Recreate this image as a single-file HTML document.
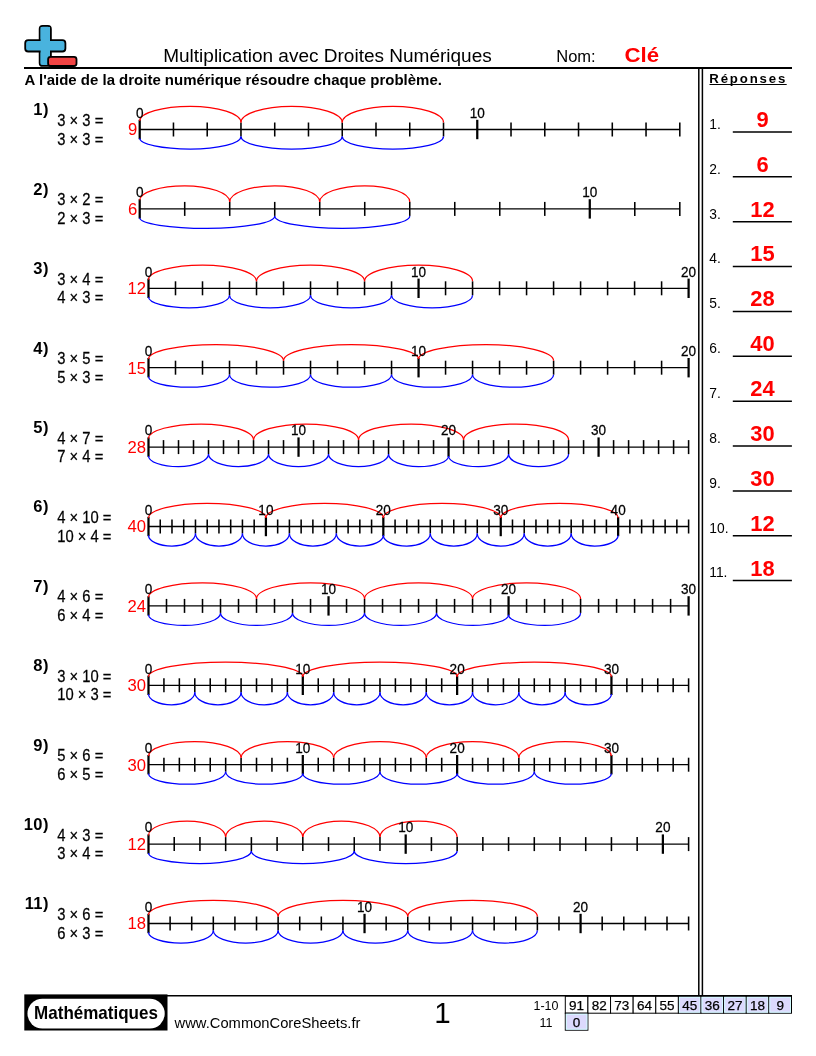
<!DOCTYPE html>
<html><head><meta charset="utf-8"><style>
html,body{margin:0;padding:0;background:#fff;}
body{width:816px;height:1056px;position:relative;overflow:hidden;font-family:'Liberation Sans', Arial, sans-serif;}
svg{position:absolute;left:0;top:0;}
svg text{font-family:'Liberation Sans', Arial, sans-serif;stroke:currentColor;stroke-width:0;}
svg text.t{stroke-width:0.25px;}
</style></head><body>
<svg width="816" height="1056" viewBox="0 0 816 1056">
<g fill="none" stroke-width="1.25">
<path d="M139.7 129.5H679.8" stroke="#000" stroke-width="1.3"/>
<path d="M139.7 119.8V139.2" stroke="#000" stroke-width="2.25"/>
<path d="M173.46 122.5V136.5" stroke="#000" stroke-width="1.55"/>
<path d="M207.21 122.5V136.5" stroke="#000" stroke-width="1.55"/>
<path d="M240.97 122.5V136.5" stroke="#000" stroke-width="1.55"/>
<path d="M274.73 122.5V136.5" stroke="#000" stroke-width="1.55"/>
<path d="M308.48 122.5V136.5" stroke="#000" stroke-width="1.55"/>
<path d="M342.24 122.5V136.5" stroke="#000" stroke-width="1.55"/>
<path d="M375.99 122.5V136.5" stroke="#000" stroke-width="1.55"/>
<path d="M409.75 122.5V136.5" stroke="#000" stroke-width="1.55"/>
<path d="M443.51 122.5V136.5" stroke="#000" stroke-width="1.55"/>
<path d="M477.26 119.8V139.2" stroke="#000" stroke-width="2.25"/>
<path d="M511.02 122.5V136.5" stroke="#000" stroke-width="1.55"/>
<path d="M544.78 122.5V136.5" stroke="#000" stroke-width="1.55"/>
<path d="M578.53 122.5V136.5" stroke="#000" stroke-width="1.55"/>
<path d="M612.29 122.5V136.5" stroke="#000" stroke-width="1.55"/>
<path d="M646.04 122.5V136.5" stroke="#000" stroke-width="1.55"/>
<path d="M679.8 122.5V136.5" stroke="#000" stroke-width="1.55"/>
<path d="M139.7 120.9 C139.7 112.89 162.37 106.4 190.33 106.4 C218.3 106.4 240.97 113.61 240.97 122.5" stroke="#ff0000"/>
<path d="M240.97 122.5 C240.97 113.61 263.64 106.4 291.6 106.4 C319.57 106.4 342.24 113.61 342.24 122.5" stroke="#ff0000"/>
<path d="M342.24 122.5 C342.24 113.61 364.91 106.4 392.87 106.4 C420.84 106.4 443.51 113.61 443.51 122.5" stroke="#ff0000"/>
<path d="M139.7 138.3 C139.7 144.21 162.37 149 190.33 149 C218.3 149 240.97 143.4 240.97 136.5" stroke="#0000ff"/>
<path d="M240.97 136.5 C240.97 143.4 263.64 149 291.6 149 C319.57 149 342.24 143.4 342.24 136.5" stroke="#0000ff"/>
<path d="M342.24 136.5 C342.24 143.4 364.91 149 392.87 149 C420.84 149 443.51 143.4 443.51 136.5" stroke="#0000ff"/>
<path d="M139.7 208.9H679.8" stroke="#000" stroke-width="1.3"/>
<path d="M139.7 199.2V218.6" stroke="#000" stroke-width="2.25"/>
<path d="M184.71 201.9V215.9" stroke="#000" stroke-width="1.55"/>
<path d="M229.72 201.9V215.9" stroke="#000" stroke-width="1.55"/>
<path d="M274.73 201.9V215.9" stroke="#000" stroke-width="1.55"/>
<path d="M319.73 201.9V215.9" stroke="#000" stroke-width="1.55"/>
<path d="M364.74 201.9V215.9" stroke="#000" stroke-width="1.55"/>
<path d="M409.75 201.9V215.9" stroke="#000" stroke-width="1.55"/>
<path d="M454.76 201.9V215.9" stroke="#000" stroke-width="1.55"/>
<path d="M499.77 201.9V215.9" stroke="#000" stroke-width="1.55"/>
<path d="M544.77 201.9V215.9" stroke="#000" stroke-width="1.55"/>
<path d="M589.78 199.2V218.6" stroke="#000" stroke-width="2.25"/>
<path d="M634.79 201.9V215.9" stroke="#000" stroke-width="1.55"/>
<path d="M679.8 201.9V215.9" stroke="#000" stroke-width="1.55"/>
<path d="M139.7 200.3 C139.7 192.29 159.85 185.8 184.71 185.8 C209.57 185.8 229.72 193.01 229.72 201.9" stroke="#ff0000"/>
<path d="M229.72 201.9 C229.72 193.01 249.87 185.8 274.73 185.8 C299.58 185.8 319.73 193.01 319.73 201.9" stroke="#ff0000"/>
<path d="M319.73 201.9 C319.73 193.01 339.88 185.8 364.74 185.8 C389.6 185.8 409.75 193.01 409.75 201.9" stroke="#ff0000"/>
<path d="M139.7 217.7 C139.7 223.61 169.93 228.4 207.21 228.4 C244.5 228.4 274.73 222.8 274.73 215.9" stroke="#0000ff"/>
<path d="M274.73 215.9 C274.73 222.8 304.95 228.4 342.24 228.4 C379.52 228.4 409.75 222.8 409.75 215.9" stroke="#0000ff"/>
<path d="M148.5 288.3H688.6" stroke="#000" stroke-width="1.3"/>
<path d="M148.5 278.6V298" stroke="#000" stroke-width="2.25"/>
<path d="M175.5 281.3V295.3" stroke="#000" stroke-width="1.55"/>
<path d="M202.51 281.3V295.3" stroke="#000" stroke-width="1.55"/>
<path d="M229.52 281.3V295.3" stroke="#000" stroke-width="1.55"/>
<path d="M256.52 281.3V295.3" stroke="#000" stroke-width="1.55"/>
<path d="M283.52 281.3V295.3" stroke="#000" stroke-width="1.55"/>
<path d="M310.53 281.3V295.3" stroke="#000" stroke-width="1.55"/>
<path d="M337.54 281.3V295.3" stroke="#000" stroke-width="1.55"/>
<path d="M364.54 281.3V295.3" stroke="#000" stroke-width="1.55"/>
<path d="M391.55 281.3V295.3" stroke="#000" stroke-width="1.55"/>
<path d="M418.55 278.6V298" stroke="#000" stroke-width="2.25"/>
<path d="M445.56 281.3V295.3" stroke="#000" stroke-width="1.55"/>
<path d="M472.56 281.3V295.3" stroke="#000" stroke-width="1.55"/>
<path d="M499.57 281.3V295.3" stroke="#000" stroke-width="1.55"/>
<path d="M526.57 281.3V295.3" stroke="#000" stroke-width="1.55"/>
<path d="M553.58 281.3V295.3" stroke="#000" stroke-width="1.55"/>
<path d="M580.58 281.3V295.3" stroke="#000" stroke-width="1.55"/>
<path d="M607.59 281.3V295.3" stroke="#000" stroke-width="1.55"/>
<path d="M634.59 281.3V295.3" stroke="#000" stroke-width="1.55"/>
<path d="M661.6 281.3V295.3" stroke="#000" stroke-width="1.55"/>
<path d="M688.6 278.6V298" stroke="#000" stroke-width="2.25"/>
<path d="M148.5 279.7 C148.5 271.69 172.68 265.2 202.51 265.2 C232.34 265.2 256.52 272.41 256.52 281.3" stroke="#ff0000"/>
<path d="M256.52 281.3 C256.52 272.41 280.7 265.2 310.53 265.2 C340.36 265.2 364.54 272.41 364.54 281.3" stroke="#ff0000"/>
<path d="M364.54 281.3 C364.54 272.41 388.72 265.2 418.55 265.2 C448.38 265.2 472.56 272.41 472.56 281.3" stroke="#ff0000"/>
<path d="M148.5 297.1 C148.5 303.01 166.64 307.8 189.01 307.8 C211.38 307.8 229.52 302.2 229.52 295.3" stroke="#0000ff"/>
<path d="M229.52 295.3 C229.52 302.2 247.65 307.8 270.02 307.8 C292.39 307.8 310.53 302.2 310.53 295.3" stroke="#0000ff"/>
<path d="M310.53 295.3 C310.53 302.2 328.67 307.8 351.04 307.8 C373.41 307.8 391.55 302.2 391.55 295.3" stroke="#0000ff"/>
<path d="M391.55 295.3 C391.55 302.2 409.68 307.8 432.05 307.8 C454.42 307.8 472.56 302.2 472.56 295.3" stroke="#0000ff"/>
<path d="M148.5 367.7H688.6" stroke="#000" stroke-width="1.3"/>
<path d="M148.5 358V377.4" stroke="#000" stroke-width="2.25"/>
<path d="M175.5 360.7V374.7" stroke="#000" stroke-width="1.55"/>
<path d="M202.51 360.7V374.7" stroke="#000" stroke-width="1.55"/>
<path d="M229.52 360.7V374.7" stroke="#000" stroke-width="1.55"/>
<path d="M256.52 360.7V374.7" stroke="#000" stroke-width="1.55"/>
<path d="M283.52 360.7V374.7" stroke="#000" stroke-width="1.55"/>
<path d="M310.53 360.7V374.7" stroke="#000" stroke-width="1.55"/>
<path d="M337.54 360.7V374.7" stroke="#000" stroke-width="1.55"/>
<path d="M364.54 360.7V374.7" stroke="#000" stroke-width="1.55"/>
<path d="M391.55 360.7V374.7" stroke="#000" stroke-width="1.55"/>
<path d="M418.55 358V377.4" stroke="#000" stroke-width="2.25"/>
<path d="M445.56 360.7V374.7" stroke="#000" stroke-width="1.55"/>
<path d="M472.56 360.7V374.7" stroke="#000" stroke-width="1.55"/>
<path d="M499.57 360.7V374.7" stroke="#000" stroke-width="1.55"/>
<path d="M526.57 360.7V374.7" stroke="#000" stroke-width="1.55"/>
<path d="M553.58 360.7V374.7" stroke="#000" stroke-width="1.55"/>
<path d="M580.58 360.7V374.7" stroke="#000" stroke-width="1.55"/>
<path d="M607.59 360.7V374.7" stroke="#000" stroke-width="1.55"/>
<path d="M634.59 360.7V374.7" stroke="#000" stroke-width="1.55"/>
<path d="M661.6 360.7V374.7" stroke="#000" stroke-width="1.55"/>
<path d="M688.6 358V377.4" stroke="#000" stroke-width="2.25"/>
<path d="M148.5 359.1 C148.5 351.09 178.73 344.6 216.01 344.6 C253.3 344.6 283.52 351.81 283.52 360.7" stroke="#ff0000"/>
<path d="M283.52 360.7 C283.52 351.81 313.75 344.6 351.04 344.6 C388.32 344.6 418.55 351.09 418.55 359.1" stroke="#ff0000"/>
<path d="M418.55 359.1 C418.55 351.09 448.78 344.6 486.06 344.6 C523.35 344.6 553.58 351.81 553.58 360.7" stroke="#ff0000"/>
<path d="M148.5 376.5 C148.5 382.41 166.64 387.2 189.01 387.2 C211.38 387.2 229.52 381.6 229.52 374.7" stroke="#0000ff"/>
<path d="M229.52 374.7 C229.52 381.6 247.65 387.2 270.02 387.2 C292.39 387.2 310.53 381.6 310.53 374.7" stroke="#0000ff"/>
<path d="M310.53 374.7 C310.53 381.6 328.67 387.2 351.04 387.2 C373.41 387.2 391.55 381.6 391.55 374.7" stroke="#0000ff"/>
<path d="M391.55 374.7 C391.55 381.6 409.68 387.2 432.05 387.2 C454.42 387.2 472.56 381.6 472.56 374.7" stroke="#0000ff"/>
<path d="M472.56 374.7 C472.56 381.6 490.7 387.2 513.07 387.2 C535.44 387.2 553.58 381.6 553.58 374.7" stroke="#0000ff"/>
<path d="M148.5 447.1H688.6" stroke="#000" stroke-width="1.3"/>
<path d="M148.5 437.4V456.8" stroke="#000" stroke-width="2.25"/>
<path d="M163.5 440.1V454.1" stroke="#000" stroke-width="1.55"/>
<path d="M178.51 440.1V454.1" stroke="#000" stroke-width="1.55"/>
<path d="M193.51 440.1V454.1" stroke="#000" stroke-width="1.55"/>
<path d="M208.51 440.1V454.1" stroke="#000" stroke-width="1.55"/>
<path d="M223.51 440.1V454.1" stroke="#000" stroke-width="1.55"/>
<path d="M238.52 440.1V454.1" stroke="#000" stroke-width="1.55"/>
<path d="M253.52 440.1V454.1" stroke="#000" stroke-width="1.55"/>
<path d="M268.52 440.1V454.1" stroke="#000" stroke-width="1.55"/>
<path d="M283.52 440.1V454.1" stroke="#000" stroke-width="1.55"/>
<path d="M298.53 437.4V456.8" stroke="#000" stroke-width="2.25"/>
<path d="M313.53 440.1V454.1" stroke="#000" stroke-width="1.55"/>
<path d="M328.53 440.1V454.1" stroke="#000" stroke-width="1.55"/>
<path d="M343.54 440.1V454.1" stroke="#000" stroke-width="1.55"/>
<path d="M358.54 440.1V454.1" stroke="#000" stroke-width="1.55"/>
<path d="M373.54 440.1V454.1" stroke="#000" stroke-width="1.55"/>
<path d="M388.54 440.1V454.1" stroke="#000" stroke-width="1.55"/>
<path d="M403.55 440.1V454.1" stroke="#000" stroke-width="1.55"/>
<path d="M418.55 440.1V454.1" stroke="#000" stroke-width="1.55"/>
<path d="M433.55 440.1V454.1" stroke="#000" stroke-width="1.55"/>
<path d="M448.56 437.4V456.8" stroke="#000" stroke-width="2.25"/>
<path d="M463.56 440.1V454.1" stroke="#000" stroke-width="1.55"/>
<path d="M478.56 440.1V454.1" stroke="#000" stroke-width="1.55"/>
<path d="M493.56 440.1V454.1" stroke="#000" stroke-width="1.55"/>
<path d="M508.57 440.1V454.1" stroke="#000" stroke-width="1.55"/>
<path d="M523.57 440.1V454.1" stroke="#000" stroke-width="1.55"/>
<path d="M538.57 440.1V454.1" stroke="#000" stroke-width="1.55"/>
<path d="M553.58 440.1V454.1" stroke="#000" stroke-width="1.55"/>
<path d="M568.58 440.1V454.1" stroke="#000" stroke-width="1.55"/>
<path d="M583.58 440.1V454.1" stroke="#000" stroke-width="1.55"/>
<path d="M598.58 437.4V456.8" stroke="#000" stroke-width="2.25"/>
<path d="M613.59 440.1V454.1" stroke="#000" stroke-width="1.55"/>
<path d="M628.59 440.1V454.1" stroke="#000" stroke-width="1.55"/>
<path d="M643.59 440.1V454.1" stroke="#000" stroke-width="1.55"/>
<path d="M658.59 440.1V454.1" stroke="#000" stroke-width="1.55"/>
<path d="M673.6 440.1V454.1" stroke="#000" stroke-width="1.55"/>
<path d="M688.6 440.1V454.1" stroke="#000" stroke-width="1.55"/>
<path d="M148.5 438.5 C148.5 430.49 172.01 424 201.01 424 C230.01 424 253.52 431.21 253.52 440.1" stroke="#ff0000"/>
<path d="M253.52 440.1 C253.52 431.21 277.03 424 306.03 424 C335.03 424 358.54 431.21 358.54 440.1" stroke="#ff0000"/>
<path d="M358.54 440.1 C358.54 431.21 382.05 424 411.05 424 C440.05 424 463.56 431.21 463.56 440.1" stroke="#ff0000"/>
<path d="M463.56 440.1 C463.56 431.21 487.07 424 516.07 424 C545.07 424 568.58 431.21 568.58 440.1" stroke="#ff0000"/>
<path d="M148.5 455.9 C148.5 461.81 161.93 466.6 178.51 466.6 C195.08 466.6 208.51 461 208.51 454.1" stroke="#0000ff"/>
<path d="M208.51 454.1 C208.51 461 221.94 466.6 238.52 466.6 C255.09 466.6 268.52 461 268.52 454.1" stroke="#0000ff"/>
<path d="M268.52 454.1 C268.52 461 281.96 466.6 298.53 466.6 C315.1 466.6 328.53 461 328.53 454.1" stroke="#0000ff"/>
<path d="M328.53 454.1 C328.53 461 341.97 466.6 358.54 466.6 C375.11 466.6 388.54 461 388.54 454.1" stroke="#0000ff"/>
<path d="M388.54 454.1 C388.54 461 401.98 466.6 418.55 466.6 C435.12 466.6 448.56 461.81 448.56 455.9" stroke="#0000ff"/>
<path d="M448.56 455.9 C448.56 461.81 461.99 466.6 478.56 466.6 C495.13 466.6 508.57 461 508.57 454.1" stroke="#0000ff"/>
<path d="M508.57 454.1 C508.57 461 522 466.6 538.57 466.6 C555.14 466.6 568.58 461 568.58 454.1" stroke="#0000ff"/>
<path d="M148.5 526.5H688.6" stroke="#000" stroke-width="1.3"/>
<path d="M148.5 516.8V536.2" stroke="#000" stroke-width="2.25"/>
<path d="M160.24 519.5V533.5" stroke="#000" stroke-width="1.55"/>
<path d="M171.98 519.5V533.5" stroke="#000" stroke-width="1.55"/>
<path d="M183.72 519.5V533.5" stroke="#000" stroke-width="1.55"/>
<path d="M195.47 519.5V533.5" stroke="#000" stroke-width="1.55"/>
<path d="M207.21 519.5V533.5" stroke="#000" stroke-width="1.55"/>
<path d="M218.95 519.5V533.5" stroke="#000" stroke-width="1.55"/>
<path d="M230.69 519.5V533.5" stroke="#000" stroke-width="1.55"/>
<path d="M242.43 519.5V533.5" stroke="#000" stroke-width="1.55"/>
<path d="M254.17 519.5V533.5" stroke="#000" stroke-width="1.55"/>
<path d="M265.91 516.8V536.2" stroke="#000" stroke-width="2.25"/>
<path d="M277.65 519.5V533.5" stroke="#000" stroke-width="1.55"/>
<path d="M289.4 519.5V533.5" stroke="#000" stroke-width="1.55"/>
<path d="M301.14 519.5V533.5" stroke="#000" stroke-width="1.55"/>
<path d="M312.88 519.5V533.5" stroke="#000" stroke-width="1.55"/>
<path d="M324.62 519.5V533.5" stroke="#000" stroke-width="1.55"/>
<path d="M336.36 519.5V533.5" stroke="#000" stroke-width="1.55"/>
<path d="M348.1 519.5V533.5" stroke="#000" stroke-width="1.55"/>
<path d="M359.84 519.5V533.5" stroke="#000" stroke-width="1.55"/>
<path d="M371.58 519.5V533.5" stroke="#000" stroke-width="1.55"/>
<path d="M383.33 516.8V536.2" stroke="#000" stroke-width="2.25"/>
<path d="M395.07 519.5V533.5" stroke="#000" stroke-width="1.55"/>
<path d="M406.81 519.5V533.5" stroke="#000" stroke-width="1.55"/>
<path d="M418.55 519.5V533.5" stroke="#000" stroke-width="1.55"/>
<path d="M430.29 519.5V533.5" stroke="#000" stroke-width="1.55"/>
<path d="M442.03 519.5V533.5" stroke="#000" stroke-width="1.55"/>
<path d="M453.77 519.5V533.5" stroke="#000" stroke-width="1.55"/>
<path d="M465.52 519.5V533.5" stroke="#000" stroke-width="1.55"/>
<path d="M477.26 519.5V533.5" stroke="#000" stroke-width="1.55"/>
<path d="M489 519.5V533.5" stroke="#000" stroke-width="1.55"/>
<path d="M500.74 516.8V536.2" stroke="#000" stroke-width="2.25"/>
<path d="M512.48 519.5V533.5" stroke="#000" stroke-width="1.55"/>
<path d="M524.22 519.5V533.5" stroke="#000" stroke-width="1.55"/>
<path d="M535.96 519.5V533.5" stroke="#000" stroke-width="1.55"/>
<path d="M547.7 519.5V533.5" stroke="#000" stroke-width="1.55"/>
<path d="M559.45 519.5V533.5" stroke="#000" stroke-width="1.55"/>
<path d="M571.19 519.5V533.5" stroke="#000" stroke-width="1.55"/>
<path d="M582.93 519.5V533.5" stroke="#000" stroke-width="1.55"/>
<path d="M594.67 519.5V533.5" stroke="#000" stroke-width="1.55"/>
<path d="M606.41 519.5V533.5" stroke="#000" stroke-width="1.55"/>
<path d="M618.15 516.8V536.2" stroke="#000" stroke-width="2.25"/>
<path d="M629.89 519.5V533.5" stroke="#000" stroke-width="1.55"/>
<path d="M641.63 519.5V533.5" stroke="#000" stroke-width="1.55"/>
<path d="M653.38 519.5V533.5" stroke="#000" stroke-width="1.55"/>
<path d="M665.12 519.5V533.5" stroke="#000" stroke-width="1.55"/>
<path d="M676.86 519.5V533.5" stroke="#000" stroke-width="1.55"/>
<path d="M688.6 519.5V533.5" stroke="#000" stroke-width="1.55"/>
<path d="M148.5 517.9 C148.5 509.89 174.78 503.4 207.21 503.4 C239.63 503.4 265.91 509.89 265.91 517.9" stroke="#ff0000"/>
<path d="M265.91 517.9 C265.91 509.89 292.2 503.4 324.62 503.4 C357.04 503.4 383.33 509.89 383.33 517.9" stroke="#ff0000"/>
<path d="M383.33 517.9 C383.33 509.89 409.61 503.4 442.03 503.4 C474.46 503.4 500.74 509.89 500.74 517.9" stroke="#ff0000"/>
<path d="M500.74 517.9 C500.74 509.89 527.02 503.4 559.45 503.4 C591.87 503.4 618.15 509.89 618.15 517.9" stroke="#ff0000"/>
<path d="M148.5 535.3 C148.5 541.21 159.01 546 171.98 546 C184.95 546 195.47 540.4 195.47 533.5" stroke="#0000ff"/>
<path d="M195.47 533.5 C195.47 540.4 205.98 546 218.95 546 C231.92 546 242.43 540.4 242.43 533.5" stroke="#0000ff"/>
<path d="M242.43 533.5 C242.43 540.4 252.94 546 265.91 546 C278.88 546 289.4 540.4 289.4 533.5" stroke="#0000ff"/>
<path d="M289.4 533.5 C289.4 540.4 299.91 546 312.88 546 C325.85 546 336.36 540.4 336.36 533.5" stroke="#0000ff"/>
<path d="M336.36 533.5 C336.36 540.4 346.87 546 359.84 546 C372.81 546 383.33 541.21 383.33 535.3" stroke="#0000ff"/>
<path d="M383.33 535.3 C383.33 541.21 393.84 546 406.81 546 C419.78 546 430.29 540.4 430.29 533.5" stroke="#0000ff"/>
<path d="M430.29 533.5 C430.29 540.4 440.8 546 453.77 546 C466.74 546 477.26 540.4 477.26 533.5" stroke="#0000ff"/>
<path d="M477.26 533.5 C477.26 540.4 487.77 546 500.74 546 C513.71 546 524.22 540.4 524.22 533.5" stroke="#0000ff"/>
<path d="M524.22 533.5 C524.22 540.4 534.73 546 547.7 546 C560.67 546 571.19 540.4 571.19 533.5" stroke="#0000ff"/>
<path d="M571.19 533.5 C571.19 540.4 581.7 546 594.67 546 C607.64 546 618.15 541.21 618.15 535.3" stroke="#0000ff"/>
<path d="M148.5 605.9H688.6" stroke="#000" stroke-width="1.3"/>
<path d="M148.5 596.2V615.6" stroke="#000" stroke-width="2.25"/>
<path d="M166.5 598.9V612.9" stroke="#000" stroke-width="1.55"/>
<path d="M184.51 598.9V612.9" stroke="#000" stroke-width="1.55"/>
<path d="M202.51 598.9V612.9" stroke="#000" stroke-width="1.55"/>
<path d="M220.51 598.9V612.9" stroke="#000" stroke-width="1.55"/>
<path d="M238.52 598.9V612.9" stroke="#000" stroke-width="1.55"/>
<path d="M256.52 598.9V612.9" stroke="#000" stroke-width="1.55"/>
<path d="M274.52 598.9V612.9" stroke="#000" stroke-width="1.55"/>
<path d="M292.53 598.9V612.9" stroke="#000" stroke-width="1.55"/>
<path d="M310.53 598.9V612.9" stroke="#000" stroke-width="1.55"/>
<path d="M328.53 596.2V615.6" stroke="#000" stroke-width="2.25"/>
<path d="M346.54 598.9V612.9" stroke="#000" stroke-width="1.55"/>
<path d="M364.54 598.9V612.9" stroke="#000" stroke-width="1.55"/>
<path d="M382.54 598.9V612.9" stroke="#000" stroke-width="1.55"/>
<path d="M400.55 598.9V612.9" stroke="#000" stroke-width="1.55"/>
<path d="M418.55 598.9V612.9" stroke="#000" stroke-width="1.55"/>
<path d="M436.55 598.9V612.9" stroke="#000" stroke-width="1.55"/>
<path d="M454.56 598.9V612.9" stroke="#000" stroke-width="1.55"/>
<path d="M472.56 598.9V612.9" stroke="#000" stroke-width="1.55"/>
<path d="M490.56 598.9V612.9" stroke="#000" stroke-width="1.55"/>
<path d="M508.57 596.2V615.6" stroke="#000" stroke-width="2.25"/>
<path d="M526.57 598.9V612.9" stroke="#000" stroke-width="1.55"/>
<path d="M544.57 598.9V612.9" stroke="#000" stroke-width="1.55"/>
<path d="M562.58 598.9V612.9" stroke="#000" stroke-width="1.55"/>
<path d="M580.58 598.9V612.9" stroke="#000" stroke-width="1.55"/>
<path d="M598.58 598.9V612.9" stroke="#000" stroke-width="1.55"/>
<path d="M616.59 598.9V612.9" stroke="#000" stroke-width="1.55"/>
<path d="M634.59 598.9V612.9" stroke="#000" stroke-width="1.55"/>
<path d="M652.59 598.9V612.9" stroke="#000" stroke-width="1.55"/>
<path d="M670.6 598.9V612.9" stroke="#000" stroke-width="1.55"/>
<path d="M688.6 596.2V615.6" stroke="#000" stroke-width="2.25"/>
<path d="M148.5 597.3 C148.5 589.29 172.68 582.8 202.51 582.8 C232.34 582.8 256.52 590.01 256.52 598.9" stroke="#ff0000"/>
<path d="M256.52 598.9 C256.52 590.01 280.7 582.8 310.53 582.8 C340.36 582.8 364.54 590.01 364.54 598.9" stroke="#ff0000"/>
<path d="M364.54 598.9 C364.54 590.01 388.72 582.8 418.55 582.8 C448.38 582.8 472.56 590.01 472.56 598.9" stroke="#ff0000"/>
<path d="M472.56 598.9 C472.56 590.01 496.74 582.8 526.57 582.8 C556.4 582.8 580.58 590.01 580.58 598.9" stroke="#ff0000"/>
<path d="M148.5 614.7 C148.5 620.61 164.62 625.4 184.51 625.4 C204.39 625.4 220.51 619.8 220.51 612.9" stroke="#0000ff"/>
<path d="M220.51 612.9 C220.51 619.8 236.63 625.4 256.52 625.4 C276.41 625.4 292.53 619.8 292.53 612.9" stroke="#0000ff"/>
<path d="M292.53 612.9 C292.53 619.8 308.65 625.4 328.53 625.4 C348.42 625.4 364.54 619.8 364.54 612.9" stroke="#0000ff"/>
<path d="M364.54 612.9 C364.54 619.8 380.66 625.4 400.55 625.4 C420.43 625.4 436.55 619.8 436.55 612.9" stroke="#0000ff"/>
<path d="M436.55 612.9 C436.55 619.8 452.67 625.4 472.56 625.4 C492.45 625.4 508.57 620.61 508.57 614.7" stroke="#0000ff"/>
<path d="M508.57 614.7 C508.57 620.61 524.69 625.4 544.57 625.4 C564.46 625.4 580.58 619.8 580.58 612.9" stroke="#0000ff"/>
<path d="M148.5 685.3H688.6" stroke="#000" stroke-width="1.3"/>
<path d="M148.5 675.6V695" stroke="#000" stroke-width="2.25"/>
<path d="M163.93 678.3V692.3" stroke="#000" stroke-width="1.55"/>
<path d="M179.36 678.3V692.3" stroke="#000" stroke-width="1.55"/>
<path d="M194.79 678.3V692.3" stroke="#000" stroke-width="1.55"/>
<path d="M210.23 678.3V692.3" stroke="#000" stroke-width="1.55"/>
<path d="M225.66 678.3V692.3" stroke="#000" stroke-width="1.55"/>
<path d="M241.09 678.3V692.3" stroke="#000" stroke-width="1.55"/>
<path d="M256.52 678.3V692.3" stroke="#000" stroke-width="1.55"/>
<path d="M271.95 678.3V692.3" stroke="#000" stroke-width="1.55"/>
<path d="M287.38 678.3V692.3" stroke="#000" stroke-width="1.55"/>
<path d="M302.81 675.6V695" stroke="#000" stroke-width="2.25"/>
<path d="M318.25 678.3V692.3" stroke="#000" stroke-width="1.55"/>
<path d="M333.68 678.3V692.3" stroke="#000" stroke-width="1.55"/>
<path d="M349.11 678.3V692.3" stroke="#000" stroke-width="1.55"/>
<path d="M364.54 678.3V692.3" stroke="#000" stroke-width="1.55"/>
<path d="M379.97 678.3V692.3" stroke="#000" stroke-width="1.55"/>
<path d="M395.4 678.3V692.3" stroke="#000" stroke-width="1.55"/>
<path d="M410.83 678.3V692.3" stroke="#000" stroke-width="1.55"/>
<path d="M426.27 678.3V692.3" stroke="#000" stroke-width="1.55"/>
<path d="M441.7 678.3V692.3" stroke="#000" stroke-width="1.55"/>
<path d="M457.13 675.6V695" stroke="#000" stroke-width="2.25"/>
<path d="M472.56 678.3V692.3" stroke="#000" stroke-width="1.55"/>
<path d="M487.99 678.3V692.3" stroke="#000" stroke-width="1.55"/>
<path d="M503.42 678.3V692.3" stroke="#000" stroke-width="1.55"/>
<path d="M518.85 678.3V692.3" stroke="#000" stroke-width="1.55"/>
<path d="M534.29 678.3V692.3" stroke="#000" stroke-width="1.55"/>
<path d="M549.72 678.3V692.3" stroke="#000" stroke-width="1.55"/>
<path d="M565.15 678.3V692.3" stroke="#000" stroke-width="1.55"/>
<path d="M580.58 678.3V692.3" stroke="#000" stroke-width="1.55"/>
<path d="M596.01 678.3V692.3" stroke="#000" stroke-width="1.55"/>
<path d="M611.44 675.6V695" stroke="#000" stroke-width="2.25"/>
<path d="M626.87 678.3V692.3" stroke="#000" stroke-width="1.55"/>
<path d="M642.31 678.3V692.3" stroke="#000" stroke-width="1.55"/>
<path d="M657.74 678.3V692.3" stroke="#000" stroke-width="1.55"/>
<path d="M673.17 678.3V692.3" stroke="#000" stroke-width="1.55"/>
<path d="M688.6 678.3V692.3" stroke="#000" stroke-width="1.55"/>
<path d="M148.5 676.7 C148.5 668.69 183.04 662.2 225.66 662.2 C268.27 662.2 302.81 668.69 302.81 676.7" stroke="#ff0000"/>
<path d="M302.81 676.7 C302.81 668.69 337.36 662.2 379.97 662.2 C422.59 662.2 457.13 668.69 457.13 676.7" stroke="#ff0000"/>
<path d="M457.13 676.7 C457.13 668.69 491.67 662.2 534.29 662.2 C576.9 662.2 611.44 668.69 611.44 676.7" stroke="#ff0000"/>
<path d="M148.5 694.1 C148.5 700.01 158.86 704.8 171.65 704.8 C184.43 704.8 194.79 699.2 194.79 692.3" stroke="#0000ff"/>
<path d="M194.79 692.3 C194.79 699.2 205.16 704.8 217.94 704.8 C230.73 704.8 241.09 699.2 241.09 692.3" stroke="#0000ff"/>
<path d="M241.09 692.3 C241.09 699.2 251.45 704.8 264.24 704.8 C277.02 704.8 287.38 699.2 287.38 692.3" stroke="#0000ff"/>
<path d="M287.38 692.3 C287.38 699.2 297.75 704.8 310.53 704.8 C323.31 704.8 333.68 699.2 333.68 692.3" stroke="#0000ff"/>
<path d="M333.68 692.3 C333.68 699.2 344.04 704.8 356.82 704.8 C369.61 704.8 379.97 699.2 379.97 692.3" stroke="#0000ff"/>
<path d="M379.97 692.3 C379.97 699.2 390.33 704.8 403.12 704.8 C415.9 704.8 426.27 699.2 426.27 692.3" stroke="#0000ff"/>
<path d="M426.27 692.3 C426.27 699.2 436.63 704.8 449.41 704.8 C462.2 704.8 472.56 699.2 472.56 692.3" stroke="#0000ff"/>
<path d="M472.56 692.3 C472.56 699.2 482.92 704.8 495.71 704.8 C508.49 704.8 518.85 699.2 518.85 692.3" stroke="#0000ff"/>
<path d="M518.85 692.3 C518.85 699.2 529.22 704.8 542 704.8 C554.79 704.8 565.15 699.2 565.15 692.3" stroke="#0000ff"/>
<path d="M565.15 692.3 C565.15 699.2 575.51 704.8 588.3 704.8 C601.08 704.8 611.44 700.01 611.44 694.1" stroke="#0000ff"/>
<path d="M148.5 764.7H688.6" stroke="#000" stroke-width="1.3"/>
<path d="M148.5 755V774.4" stroke="#000" stroke-width="2.25"/>
<path d="M163.93 757.7V771.7" stroke="#000" stroke-width="1.55"/>
<path d="M179.36 757.7V771.7" stroke="#000" stroke-width="1.55"/>
<path d="M194.79 757.7V771.7" stroke="#000" stroke-width="1.55"/>
<path d="M210.23 757.7V771.7" stroke="#000" stroke-width="1.55"/>
<path d="M225.66 757.7V771.7" stroke="#000" stroke-width="1.55"/>
<path d="M241.09 757.7V771.7" stroke="#000" stroke-width="1.55"/>
<path d="M256.52 757.7V771.7" stroke="#000" stroke-width="1.55"/>
<path d="M271.95 757.7V771.7" stroke="#000" stroke-width="1.55"/>
<path d="M287.38 757.7V771.7" stroke="#000" stroke-width="1.55"/>
<path d="M302.81 755V774.4" stroke="#000" stroke-width="2.25"/>
<path d="M318.25 757.7V771.7" stroke="#000" stroke-width="1.55"/>
<path d="M333.68 757.7V771.7" stroke="#000" stroke-width="1.55"/>
<path d="M349.11 757.7V771.7" stroke="#000" stroke-width="1.55"/>
<path d="M364.54 757.7V771.7" stroke="#000" stroke-width="1.55"/>
<path d="M379.97 757.7V771.7" stroke="#000" stroke-width="1.55"/>
<path d="M395.4 757.7V771.7" stroke="#000" stroke-width="1.55"/>
<path d="M410.83 757.7V771.7" stroke="#000" stroke-width="1.55"/>
<path d="M426.27 757.7V771.7" stroke="#000" stroke-width="1.55"/>
<path d="M441.7 757.7V771.7" stroke="#000" stroke-width="1.55"/>
<path d="M457.13 755V774.4" stroke="#000" stroke-width="2.25"/>
<path d="M472.56 757.7V771.7" stroke="#000" stroke-width="1.55"/>
<path d="M487.99 757.7V771.7" stroke="#000" stroke-width="1.55"/>
<path d="M503.42 757.7V771.7" stroke="#000" stroke-width="1.55"/>
<path d="M518.85 757.7V771.7" stroke="#000" stroke-width="1.55"/>
<path d="M534.29 757.7V771.7" stroke="#000" stroke-width="1.55"/>
<path d="M549.72 757.7V771.7" stroke="#000" stroke-width="1.55"/>
<path d="M565.15 757.7V771.7" stroke="#000" stroke-width="1.55"/>
<path d="M580.58 757.7V771.7" stroke="#000" stroke-width="1.55"/>
<path d="M596.01 757.7V771.7" stroke="#000" stroke-width="1.55"/>
<path d="M611.44 755V774.4" stroke="#000" stroke-width="2.25"/>
<path d="M626.87 757.7V771.7" stroke="#000" stroke-width="1.55"/>
<path d="M642.31 757.7V771.7" stroke="#000" stroke-width="1.55"/>
<path d="M657.74 757.7V771.7" stroke="#000" stroke-width="1.55"/>
<path d="M673.17 757.7V771.7" stroke="#000" stroke-width="1.55"/>
<path d="M688.6 757.7V771.7" stroke="#000" stroke-width="1.55"/>
<path d="M148.5 756.1 C148.5 748.09 169.23 741.6 194.79 741.6 C220.36 741.6 241.09 748.81 241.09 757.7" stroke="#ff0000"/>
<path d="M241.09 757.7 C241.09 748.81 261.81 741.6 287.38 741.6 C312.95 741.6 333.68 748.81 333.68 757.7" stroke="#ff0000"/>
<path d="M333.68 757.7 C333.68 748.81 354.4 741.6 379.97 741.6 C405.54 741.6 426.27 748.81 426.27 757.7" stroke="#ff0000"/>
<path d="M426.27 757.7 C426.27 748.81 446.99 741.6 472.56 741.6 C498.13 741.6 518.85 748.81 518.85 757.7" stroke="#ff0000"/>
<path d="M518.85 757.7 C518.85 748.81 539.58 741.6 565.15 741.6 C590.72 741.6 611.44 748.09 611.44 756.1" stroke="#ff0000"/>
<path d="M148.5 773.5 C148.5 779.41 165.77 784.2 187.08 784.2 C208.39 784.2 225.66 778.6 225.66 771.7" stroke="#0000ff"/>
<path d="M225.66 771.7 C225.66 778.6 242.93 784.2 264.24 784.2 C285.54 784.2 302.81 779.41 302.81 773.5" stroke="#0000ff"/>
<path d="M302.81 773.5 C302.81 779.41 320.09 784.2 341.39 784.2 C362.7 784.2 379.97 778.6 379.97 771.7" stroke="#0000ff"/>
<path d="M379.97 771.7 C379.97 778.6 397.24 784.2 418.55 784.2 C439.86 784.2 457.13 779.41 457.13 773.5" stroke="#0000ff"/>
<path d="M457.13 773.5 C457.13 779.41 474.4 784.2 495.71 784.2 C517.01 784.2 534.29 778.6 534.29 771.7" stroke="#0000ff"/>
<path d="M534.29 771.7 C534.29 778.6 551.56 784.2 572.86 784.2 C594.17 784.2 611.44 779.41 611.44 773.5" stroke="#0000ff"/>
<path d="M148.5 844.1H688.6" stroke="#000" stroke-width="1.3"/>
<path d="M148.5 834.4V853.8" stroke="#000" stroke-width="2.25"/>
<path d="M174.22 837.1V851.1" stroke="#000" stroke-width="1.55"/>
<path d="M199.94 837.1V851.1" stroke="#000" stroke-width="1.55"/>
<path d="M225.66 837.1V851.1" stroke="#000" stroke-width="1.55"/>
<path d="M251.38 837.1V851.1" stroke="#000" stroke-width="1.55"/>
<path d="M277.1 837.1V851.1" stroke="#000" stroke-width="1.55"/>
<path d="M302.81 837.1V851.1" stroke="#000" stroke-width="1.55"/>
<path d="M328.53 837.1V851.1" stroke="#000" stroke-width="1.55"/>
<path d="M354.25 837.1V851.1" stroke="#000" stroke-width="1.55"/>
<path d="M379.97 837.1V851.1" stroke="#000" stroke-width="1.55"/>
<path d="M405.69 834.4V853.8" stroke="#000" stroke-width="2.25"/>
<path d="M431.41 837.1V851.1" stroke="#000" stroke-width="1.55"/>
<path d="M457.13 837.1V851.1" stroke="#000" stroke-width="1.55"/>
<path d="M482.85 837.1V851.1" stroke="#000" stroke-width="1.55"/>
<path d="M508.57 837.1V851.1" stroke="#000" stroke-width="1.55"/>
<path d="M534.29 837.1V851.1" stroke="#000" stroke-width="1.55"/>
<path d="M560 837.1V851.1" stroke="#000" stroke-width="1.55"/>
<path d="M585.72 837.1V851.1" stroke="#000" stroke-width="1.55"/>
<path d="M611.44 837.1V851.1" stroke="#000" stroke-width="1.55"/>
<path d="M637.16 837.1V851.1" stroke="#000" stroke-width="1.55"/>
<path d="M662.88 834.4V853.8" stroke="#000" stroke-width="2.25"/>
<path d="M688.6 837.1V851.1" stroke="#000" stroke-width="1.55"/>
<path d="M148.5 835.5 C148.5 827.49 165.77 821 187.08 821 C208.39 821 225.66 828.21 225.66 837.1" stroke="#ff0000"/>
<path d="M225.66 837.1 C225.66 828.21 242.93 821 264.24 821 C285.54 821 302.81 828.21 302.81 837.1" stroke="#ff0000"/>
<path d="M302.81 837.1 C302.81 828.21 320.09 821 341.39 821 C362.7 821 379.97 828.21 379.97 837.1" stroke="#ff0000"/>
<path d="M379.97 837.1 C379.97 828.21 397.24 821 418.55 821 C439.86 821 457.13 828.21 457.13 837.1" stroke="#ff0000"/>
<path d="M148.5 852.9 C148.5 858.81 171.53 863.6 199.94 863.6 C228.35 863.6 251.38 858 251.38 851.1" stroke="#0000ff"/>
<path d="M251.38 851.1 C251.38 858 274.41 863.6 302.81 863.6 C331.22 863.6 354.25 858 354.25 851.1" stroke="#0000ff"/>
<path d="M354.25 851.1 C354.25 858 377.28 863.6 405.69 863.6 C434.1 863.6 457.13 858 457.13 851.1" stroke="#0000ff"/>
<path d="M148.5 923.5H688.6" stroke="#000" stroke-width="1.3"/>
<path d="M148.5 913.8V933.2" stroke="#000" stroke-width="2.25"/>
<path d="M170.1 916.5V930.5" stroke="#000" stroke-width="1.55"/>
<path d="M191.71 916.5V930.5" stroke="#000" stroke-width="1.55"/>
<path d="M213.31 916.5V930.5" stroke="#000" stroke-width="1.55"/>
<path d="M234.92 916.5V930.5" stroke="#000" stroke-width="1.55"/>
<path d="M256.52 916.5V930.5" stroke="#000" stroke-width="1.55"/>
<path d="M278.12 916.5V930.5" stroke="#000" stroke-width="1.55"/>
<path d="M299.73 916.5V930.5" stroke="#000" stroke-width="1.55"/>
<path d="M321.33 916.5V930.5" stroke="#000" stroke-width="1.55"/>
<path d="M342.94 916.5V930.5" stroke="#000" stroke-width="1.55"/>
<path d="M364.54 913.8V933.2" stroke="#000" stroke-width="2.25"/>
<path d="M386.14 916.5V930.5" stroke="#000" stroke-width="1.55"/>
<path d="M407.75 916.5V930.5" stroke="#000" stroke-width="1.55"/>
<path d="M429.35 916.5V930.5" stroke="#000" stroke-width="1.55"/>
<path d="M450.96 916.5V930.5" stroke="#000" stroke-width="1.55"/>
<path d="M472.56 916.5V930.5" stroke="#000" stroke-width="1.55"/>
<path d="M494.16 916.5V930.5" stroke="#000" stroke-width="1.55"/>
<path d="M515.77 916.5V930.5" stroke="#000" stroke-width="1.55"/>
<path d="M537.37 916.5V930.5" stroke="#000" stroke-width="1.55"/>
<path d="M558.98 916.5V930.5" stroke="#000" stroke-width="1.55"/>
<path d="M580.58 913.8V933.2" stroke="#000" stroke-width="2.25"/>
<path d="M602.18 916.5V930.5" stroke="#000" stroke-width="1.55"/>
<path d="M623.79 916.5V930.5" stroke="#000" stroke-width="1.55"/>
<path d="M645.39 916.5V930.5" stroke="#000" stroke-width="1.55"/>
<path d="M667 916.5V930.5" stroke="#000" stroke-width="1.55"/>
<path d="M688.6 916.5V930.5" stroke="#000" stroke-width="1.55"/>
<path d="M148.5 914.9 C148.5 906.89 177.52 900.4 213.31 900.4 C249.11 900.4 278.12 907.61 278.12 916.5" stroke="#ff0000"/>
<path d="M278.12 916.5 C278.12 907.61 307.14 900.4 342.94 900.4 C378.73 900.4 407.75 907.61 407.75 916.5" stroke="#ff0000"/>
<path d="M407.75 916.5 C407.75 907.61 436.76 900.4 472.56 900.4 C508.36 900.4 537.37 907.61 537.37 916.5" stroke="#ff0000"/>
<path d="M148.5 932.3 C148.5 938.21 163.01 943 180.91 943 C198.8 943 213.31 937.4 213.31 930.5" stroke="#0000ff"/>
<path d="M213.31 930.5 C213.31 937.4 227.82 943 245.72 943 C263.62 943 278.12 937.4 278.12 930.5" stroke="#0000ff"/>
<path d="M278.12 930.5 C278.12 937.4 292.63 943 310.53 943 C328.43 943 342.94 937.4 342.94 930.5" stroke="#0000ff"/>
<path d="M342.94 930.5 C342.94 937.4 357.44 943 375.34 943 C393.24 943 407.75 937.4 407.75 930.5" stroke="#0000ff"/>
<path d="M407.75 930.5 C407.75 937.4 422.26 943 440.15 943 C458.05 943 472.56 937.4 472.56 930.5" stroke="#0000ff"/>
<path d="M472.56 930.5 C472.56 937.4 487.07 943 504.97 943 C522.86 943 537.37 937.4 537.37 930.5" stroke="#0000ff"/>
<path d="M732.8 132H791.9" stroke="#000" stroke-width="1.5"/>
<path d="M732.8 176.86H791.9" stroke="#000" stroke-width="1.5"/>
<path d="M732.8 221.72H791.9" stroke="#000" stroke-width="1.5"/>
<path d="M732.8 266.58H791.9" stroke="#000" stroke-width="1.5"/>
<path d="M732.8 311.44H791.9" stroke="#000" stroke-width="1.5"/>
<path d="M732.8 356.3H791.9" stroke="#000" stroke-width="1.5"/>
<path d="M732.8 401.16H791.9" stroke="#000" stroke-width="1.5"/>
<path d="M732.8 446.02H791.9" stroke="#000" stroke-width="1.5"/>
<path d="M732.8 490.88H791.9" stroke="#000" stroke-width="1.5"/>
<path d="M732.8 535.74H791.9" stroke="#000" stroke-width="1.5"/>
<path d="M732.8 580.6H791.9" stroke="#000" stroke-width="1.5"/>
<rect x="565.3" y="996.2" width="22.62" height="17" fill="#fff" stroke="#000" stroke-width="1"/>
<rect x="587.92" y="996.2" width="22.62" height="17" fill="#fff" stroke="#000" stroke-width="1"/>
<rect x="610.54" y="996.2" width="22.62" height="17" fill="#fff" stroke="#000" stroke-width="1"/>
<rect x="633.16" y="996.2" width="22.62" height="17" fill="#fff" stroke="#000" stroke-width="1"/>
<rect x="655.78" y="996.2" width="22.62" height="17" fill="#fff" stroke="#000" stroke-width="1"/>
<rect x="678.4" y="996.2" width="22.62" height="17" fill="#dcd9fd" stroke="#000" stroke-width="1"/>
<rect x="679.4" y="997.2" width="20.62" height="15" fill="none" stroke="#d2fcff" stroke-width="1"/>
<rect x="701.02" y="996.2" width="22.62" height="17" fill="#dcd9fd" stroke="#000" stroke-width="1"/>
<rect x="702.02" y="997.2" width="20.62" height="15" fill="none" stroke="#d2fcff" stroke-width="1"/>
<rect x="723.64" y="996.2" width="22.62" height="17" fill="#dcd9fd" stroke="#000" stroke-width="1"/>
<rect x="724.64" y="997.2" width="20.62" height="15" fill="none" stroke="#d2fcff" stroke-width="1"/>
<rect x="746.26" y="996.2" width="22.62" height="17" fill="#dcd9fd" stroke="#000" stroke-width="1"/>
<rect x="747.26" y="997.2" width="20.62" height="15" fill="none" stroke="#d2fcff" stroke-width="1"/>
<rect x="768.88" y="996.2" width="22.62" height="17" fill="#dcd9fd" stroke="#000" stroke-width="1"/>
<rect x="769.88" y="997.2" width="20.62" height="15" fill="none" stroke="#d2fcff" stroke-width="1"/>
<rect x="565.3" y="1013.2" width="22.62" height="17" fill="#dcd9fd" stroke="#000" stroke-width="1"/>
<rect x="566.3" y="1014.2" width="20.62" height="15" fill="none" stroke="#d2fcff" stroke-width="1"/>
</g>
<!-- header -->
<g>
<rect x="39.65" y="25.9" width="11.25" height="40" rx="3" fill="#49b3de" stroke="#000" stroke-width="1.8"/>
<rect x="25.2" y="40.2" width="40.2" height="11.3" rx="3" fill="#49b3de" stroke="#000" stroke-width="1.8"/>
<rect x="40.6" y="27" width="9.4" height="37.5" fill="#49b3de"/>
<rect x="48.1" y="56.8" width="28.4" height="9.2" rx="2.5" fill="#f24444" stroke="#000" stroke-width="1.8"/>
</g>
<path d="M24 68H792" stroke="#000" stroke-width="2"/>
<path d="M698.8 68V995M702.4 68V995" stroke="#000" stroke-width="1.5"/>
<text x="163.2" y="61.6" font-size="18.9" textLength="328.6" lengthAdjust="spacingAndGlyphs">Multiplication avec Droites Numériques</text>
<text transform="matrix(1.02 0 0 1 556.2 62)" font-size="16.2">Nom:</text>
<text transform="matrix(1.07 0 0 1 624.4 62)" font-size="20.8" font-weight="bold" fill="#ff0000" color="#ff0000">Clé</text>
<text x="24.6" y="85.1" font-size="15.1" font-weight="bold" textLength="417.3" lengthAdjust="spacingAndGlyphs">A l'aide de la droite numérique résoudre chaque problème.</text>
<text x="709.3" y="83.1" font-size="13.2" font-weight="bold" letter-spacing="1.85">Réponses</text>
<path d="M709.5 84.5H786.7" stroke="#000" stroke-width="1"/>
<!-- footer -->
<path d="M167 995.7H792" stroke="#000" stroke-width="1.5"/>
<rect x="24.3" y="994.4" width="143.2" height="36.1" fill="#000"/>
<rect x="27.5" y="998.7" width="137.2" height="29.8" rx="14.9" fill="#fff"/>
<text x="96" y="1019.4" font-size="18.4" font-weight="bold" text-anchor="middle" textLength="123.8" lengthAdjust="spacingAndGlyphs">Mathématiques</text>
<text x="174.6" y="1028" font-size="15" textLength="185.8" lengthAdjust="spacingAndGlyphs">www.CommonCoreSheets.fr</text>
<text x="442.6" y="1023" font-size="29.6" text-anchor="middle">1</text>
<text x="48.8" y="115.4" font-size="16.5" font-weight="bold" fill="#000" color="#000" text-anchor="end" letter-spacing="0.4">1)</text>
<text transform="matrix(0.89 0 0 1 57.3 125.9)" font-size="16.6" font-weight="normal" fill="#000" color="#000" text-anchor="start" class="t">3 × 3 =</text>
<text transform="matrix(0.89 0 0 1 57.3 144.6)" font-size="16.6" font-weight="normal" fill="#000" color="#000" text-anchor="start" class="t">3 × 3 =</text>
<text transform="matrix(1.03 0 0 1 137.2 135.3)" font-size="16.2" font-weight="normal" fill="#ff0000" color="#ff0000" text-anchor="end">9</text>
<text transform="matrix(0.95 0 0 1 139.7 117.75)" font-size="14.3" font-weight="normal" fill="#000" color="#000" text-anchor="middle" class="t">0</text>
<text transform="matrix(0.95 0 0 1 477.26 117.75)" font-size="14.3" font-weight="normal" fill="#000" color="#000" text-anchor="middle" class="t">10</text>
<text x="48.8" y="194.8" font-size="16.5" font-weight="bold" fill="#000" color="#000" text-anchor="end" letter-spacing="0.4">2)</text>
<text transform="matrix(0.89 0 0 1 57.3 205.3)" font-size="16.6" font-weight="normal" fill="#000" color="#000" text-anchor="start" class="t">3 × 2 =</text>
<text transform="matrix(0.89 0 0 1 57.3 224)" font-size="16.6" font-weight="normal" fill="#000" color="#000" text-anchor="start" class="t">2 × 3 =</text>
<text transform="matrix(1.03 0 0 1 137.2 214.7)" font-size="16.2" font-weight="normal" fill="#ff0000" color="#ff0000" text-anchor="end">6</text>
<text transform="matrix(0.95 0 0 1 139.7 197.15)" font-size="14.3" font-weight="normal" fill="#000" color="#000" text-anchor="middle" class="t">0</text>
<text transform="matrix(0.95 0 0 1 589.78 197.15)" font-size="14.3" font-weight="normal" fill="#000" color="#000" text-anchor="middle" class="t">10</text>
<text x="48.8" y="274.2" font-size="16.5" font-weight="bold" fill="#000" color="#000" text-anchor="end" letter-spacing="0.4">3)</text>
<text transform="matrix(0.89 0 0 1 57.3 284.7)" font-size="16.6" font-weight="normal" fill="#000" color="#000" text-anchor="start" class="t">3 × 4 =</text>
<text transform="matrix(0.89 0 0 1 57.3 303.4)" font-size="16.6" font-weight="normal" fill="#000" color="#000" text-anchor="start" class="t">4 × 3 =</text>
<text transform="matrix(1.03 0 0 1 146 294.1)" font-size="16.2" font-weight="normal" fill="#ff0000" color="#ff0000" text-anchor="end">12</text>
<text transform="matrix(0.95 0 0 1 148.5 276.55)" font-size="14.3" font-weight="normal" fill="#000" color="#000" text-anchor="middle" class="t">0</text>
<text transform="matrix(0.95 0 0 1 418.55 276.55)" font-size="14.3" font-weight="normal" fill="#000" color="#000" text-anchor="middle" class="t">10</text>
<text transform="matrix(0.95 0 0 1 688.6 276.55)" font-size="14.3" font-weight="normal" fill="#000" color="#000" text-anchor="middle" class="t">20</text>
<text x="48.8" y="353.6" font-size="16.5" font-weight="bold" fill="#000" color="#000" text-anchor="end" letter-spacing="0.4">4)</text>
<text transform="matrix(0.89 0 0 1 57.3 364.1)" font-size="16.6" font-weight="normal" fill="#000" color="#000" text-anchor="start" class="t">3 × 5 =</text>
<text transform="matrix(0.89 0 0 1 57.3 382.8)" font-size="16.6" font-weight="normal" fill="#000" color="#000" text-anchor="start" class="t">5 × 3 =</text>
<text transform="matrix(1.03 0 0 1 146 373.5)" font-size="16.2" font-weight="normal" fill="#ff0000" color="#ff0000" text-anchor="end">15</text>
<text transform="matrix(0.95 0 0 1 148.5 355.95)" font-size="14.3" font-weight="normal" fill="#000" color="#000" text-anchor="middle" class="t">0</text>
<text transform="matrix(0.95 0 0 1 418.55 355.95)" font-size="14.3" font-weight="normal" fill="#000" color="#000" text-anchor="middle" class="t">10</text>
<text transform="matrix(0.95 0 0 1 688.6 355.95)" font-size="14.3" font-weight="normal" fill="#000" color="#000" text-anchor="middle" class="t">20</text>
<text x="48.8" y="433" font-size="16.5" font-weight="bold" fill="#000" color="#000" text-anchor="end" letter-spacing="0.4">5)</text>
<text transform="matrix(0.89 0 0 1 57.3 443.5)" font-size="16.6" font-weight="normal" fill="#000" color="#000" text-anchor="start" class="t">4 × 7 =</text>
<text transform="matrix(0.89 0 0 1 57.3 462.2)" font-size="16.6" font-weight="normal" fill="#000" color="#000" text-anchor="start" class="t">7 × 4 =</text>
<text transform="matrix(1.03 0 0 1 146 452.9)" font-size="16.2" font-weight="normal" fill="#ff0000" color="#ff0000" text-anchor="end">28</text>
<text transform="matrix(0.95 0 0 1 148.5 435.35)" font-size="14.3" font-weight="normal" fill="#000" color="#000" text-anchor="middle" class="t">0</text>
<text transform="matrix(0.95 0 0 1 298.53 435.35)" font-size="14.3" font-weight="normal" fill="#000" color="#000" text-anchor="middle" class="t">10</text>
<text transform="matrix(0.95 0 0 1 448.56 435.35)" font-size="14.3" font-weight="normal" fill="#000" color="#000" text-anchor="middle" class="t">20</text>
<text transform="matrix(0.95 0 0 1 598.58 435.35)" font-size="14.3" font-weight="normal" fill="#000" color="#000" text-anchor="middle" class="t">30</text>
<text x="48.8" y="512.4" font-size="16.5" font-weight="bold" fill="#000" color="#000" text-anchor="end" letter-spacing="0.4">6)</text>
<text transform="matrix(0.89 0 0 1 57.3 522.9)" font-size="16.6" font-weight="normal" fill="#000" color="#000" text-anchor="start" class="t">4 × 10 =</text>
<text transform="matrix(0.89 0 0 1 57.3 541.6)" font-size="16.6" font-weight="normal" fill="#000" color="#000" text-anchor="start" class="t">10 × 4 =</text>
<text transform="matrix(1.03 0 0 1 146 532.3)" font-size="16.2" font-weight="normal" fill="#ff0000" color="#ff0000" text-anchor="end">40</text>
<text transform="matrix(0.95 0 0 1 148.5 514.75)" font-size="14.3" font-weight="normal" fill="#000" color="#000" text-anchor="middle" class="t">0</text>
<text transform="matrix(0.95 0 0 1 265.91 514.75)" font-size="14.3" font-weight="normal" fill="#000" color="#000" text-anchor="middle" class="t">10</text>
<text transform="matrix(0.95 0 0 1 383.33 514.75)" font-size="14.3" font-weight="normal" fill="#000" color="#000" text-anchor="middle" class="t">20</text>
<text transform="matrix(0.95 0 0 1 500.74 514.75)" font-size="14.3" font-weight="normal" fill="#000" color="#000" text-anchor="middle" class="t">30</text>
<text transform="matrix(0.95 0 0 1 618.15 514.75)" font-size="14.3" font-weight="normal" fill="#000" color="#000" text-anchor="middle" class="t">40</text>
<text x="48.8" y="591.8" font-size="16.5" font-weight="bold" fill="#000" color="#000" text-anchor="end" letter-spacing="0.4">7)</text>
<text transform="matrix(0.89 0 0 1 57.3 602.3)" font-size="16.6" font-weight="normal" fill="#000" color="#000" text-anchor="start" class="t">4 × 6 =</text>
<text transform="matrix(0.89 0 0 1 57.3 621)" font-size="16.6" font-weight="normal" fill="#000" color="#000" text-anchor="start" class="t">6 × 4 =</text>
<text transform="matrix(1.03 0 0 1 146 611.7)" font-size="16.2" font-weight="normal" fill="#ff0000" color="#ff0000" text-anchor="end">24</text>
<text transform="matrix(0.95 0 0 1 148.5 594.15)" font-size="14.3" font-weight="normal" fill="#000" color="#000" text-anchor="middle" class="t">0</text>
<text transform="matrix(0.95 0 0 1 328.53 594.15)" font-size="14.3" font-weight="normal" fill="#000" color="#000" text-anchor="middle" class="t">10</text>
<text transform="matrix(0.95 0 0 1 508.57 594.15)" font-size="14.3" font-weight="normal" fill="#000" color="#000" text-anchor="middle" class="t">20</text>
<text transform="matrix(0.95 0 0 1 688.6 594.15)" font-size="14.3" font-weight="normal" fill="#000" color="#000" text-anchor="middle" class="t">30</text>
<text x="48.8" y="671.2" font-size="16.5" font-weight="bold" fill="#000" color="#000" text-anchor="end" letter-spacing="0.4">8)</text>
<text transform="matrix(0.89 0 0 1 57.3 681.7)" font-size="16.6" font-weight="normal" fill="#000" color="#000" text-anchor="start" class="t">3 × 10 =</text>
<text transform="matrix(0.89 0 0 1 57.3 700.4)" font-size="16.6" font-weight="normal" fill="#000" color="#000" text-anchor="start" class="t">10 × 3 =</text>
<text transform="matrix(1.03 0 0 1 146 691.1)" font-size="16.2" font-weight="normal" fill="#ff0000" color="#ff0000" text-anchor="end">30</text>
<text transform="matrix(0.95 0 0 1 148.5 673.55)" font-size="14.3" font-weight="normal" fill="#000" color="#000" text-anchor="middle" class="t">0</text>
<text transform="matrix(0.95 0 0 1 302.81 673.55)" font-size="14.3" font-weight="normal" fill="#000" color="#000" text-anchor="middle" class="t">10</text>
<text transform="matrix(0.95 0 0 1 457.13 673.55)" font-size="14.3" font-weight="normal" fill="#000" color="#000" text-anchor="middle" class="t">20</text>
<text transform="matrix(0.95 0 0 1 611.44 673.55)" font-size="14.3" font-weight="normal" fill="#000" color="#000" text-anchor="middle" class="t">30</text>
<text x="48.8" y="750.6" font-size="16.5" font-weight="bold" fill="#000" color="#000" text-anchor="end" letter-spacing="0.4">9)</text>
<text transform="matrix(0.89 0 0 1 57.3 761.1)" font-size="16.6" font-weight="normal" fill="#000" color="#000" text-anchor="start" class="t">5 × 6 =</text>
<text transform="matrix(0.89 0 0 1 57.3 779.8)" font-size="16.6" font-weight="normal" fill="#000" color="#000" text-anchor="start" class="t">6 × 5 =</text>
<text transform="matrix(1.03 0 0 1 146 770.5)" font-size="16.2" font-weight="normal" fill="#ff0000" color="#ff0000" text-anchor="end">30</text>
<text transform="matrix(0.95 0 0 1 148.5 752.95)" font-size="14.3" font-weight="normal" fill="#000" color="#000" text-anchor="middle" class="t">0</text>
<text transform="matrix(0.95 0 0 1 302.81 752.95)" font-size="14.3" font-weight="normal" fill="#000" color="#000" text-anchor="middle" class="t">10</text>
<text transform="matrix(0.95 0 0 1 457.13 752.95)" font-size="14.3" font-weight="normal" fill="#000" color="#000" text-anchor="middle" class="t">20</text>
<text transform="matrix(0.95 0 0 1 611.44 752.95)" font-size="14.3" font-weight="normal" fill="#000" color="#000" text-anchor="middle" class="t">30</text>
<text x="48.8" y="830" font-size="16.5" font-weight="bold" fill="#000" color="#000" text-anchor="end" letter-spacing="0.4">10)</text>
<text transform="matrix(0.89 0 0 1 57.3 840.5)" font-size="16.6" font-weight="normal" fill="#000" color="#000" text-anchor="start" class="t">4 × 3 =</text>
<text transform="matrix(0.89 0 0 1 57.3 859.2)" font-size="16.6" font-weight="normal" fill="#000" color="#000" text-anchor="start" class="t">3 × 4 =</text>
<text transform="matrix(1.03 0 0 1 146 849.9)" font-size="16.2" font-weight="normal" fill="#ff0000" color="#ff0000" text-anchor="end">12</text>
<text transform="matrix(0.95 0 0 1 148.5 832.35)" font-size="14.3" font-weight="normal" fill="#000" color="#000" text-anchor="middle" class="t">0</text>
<text transform="matrix(0.95 0 0 1 405.69 832.35)" font-size="14.3" font-weight="normal" fill="#000" color="#000" text-anchor="middle" class="t">10</text>
<text transform="matrix(0.95 0 0 1 662.88 832.35)" font-size="14.3" font-weight="normal" fill="#000" color="#000" text-anchor="middle" class="t">20</text>
<text x="48.8" y="909.4" font-size="16.5" font-weight="bold" fill="#000" color="#000" text-anchor="end" letter-spacing="0.4">11)</text>
<text transform="matrix(0.89 0 0 1 57.3 919.9)" font-size="16.6" font-weight="normal" fill="#000" color="#000" text-anchor="start" class="t">3 × 6 =</text>
<text transform="matrix(0.89 0 0 1 57.3 938.6)" font-size="16.6" font-weight="normal" fill="#000" color="#000" text-anchor="start" class="t">6 × 3 =</text>
<text transform="matrix(1.03 0 0 1 146 929.3)" font-size="16.2" font-weight="normal" fill="#ff0000" color="#ff0000" text-anchor="end">18</text>
<text transform="matrix(0.95 0 0 1 148.5 911.75)" font-size="14.3" font-weight="normal" fill="#000" color="#000" text-anchor="middle" class="t">0</text>
<text transform="matrix(0.95 0 0 1 364.54 911.75)" font-size="14.3" font-weight="normal" fill="#000" color="#000" text-anchor="middle" class="t">10</text>
<text transform="matrix(0.95 0 0 1 580.58 911.75)" font-size="14.3" font-weight="normal" fill="#000" color="#000" text-anchor="middle" class="t">20</text>
<text x="709.3" y="128.8" font-size="13.8" font-weight="normal" fill="#000" color="#000" text-anchor="start">1.</text>
<text transform="matrix(0.97 0 0 1 762.5 126.9)" font-size="22.6" font-weight="bold" fill="#ff0000" color="#ff0000" text-anchor="middle">9</text>
<text x="709.3" y="173.66" font-size="13.8" font-weight="normal" fill="#000" color="#000" text-anchor="start">2.</text>
<text transform="matrix(0.97 0 0 1 762.5 171.76)" font-size="22.6" font-weight="bold" fill="#ff0000" color="#ff0000" text-anchor="middle">6</text>
<text x="709.3" y="218.52" font-size="13.8" font-weight="normal" fill="#000" color="#000" text-anchor="start">3.</text>
<text transform="matrix(0.97 0 0 1 762.5 216.62)" font-size="22.6" font-weight="bold" fill="#ff0000" color="#ff0000" text-anchor="middle">12</text>
<text x="709.3" y="263.38" font-size="13.8" font-weight="normal" fill="#000" color="#000" text-anchor="start">4.</text>
<text transform="matrix(0.97 0 0 1 762.5 261.48)" font-size="22.6" font-weight="bold" fill="#ff0000" color="#ff0000" text-anchor="middle">15</text>
<text x="709.3" y="308.24" font-size="13.8" font-weight="normal" fill="#000" color="#000" text-anchor="start">5.</text>
<text transform="matrix(0.97 0 0 1 762.5 306.34)" font-size="22.6" font-weight="bold" fill="#ff0000" color="#ff0000" text-anchor="middle">28</text>
<text x="709.3" y="353.1" font-size="13.8" font-weight="normal" fill="#000" color="#000" text-anchor="start">6.</text>
<text transform="matrix(0.97 0 0 1 762.5 351.2)" font-size="22.6" font-weight="bold" fill="#ff0000" color="#ff0000" text-anchor="middle">40</text>
<text x="709.3" y="397.96" font-size="13.8" font-weight="normal" fill="#000" color="#000" text-anchor="start">7.</text>
<text transform="matrix(0.97 0 0 1 762.5 396.06)" font-size="22.6" font-weight="bold" fill="#ff0000" color="#ff0000" text-anchor="middle">24</text>
<text x="709.3" y="442.82" font-size="13.8" font-weight="normal" fill="#000" color="#000" text-anchor="start">8.</text>
<text transform="matrix(0.97 0 0 1 762.5 440.92)" font-size="22.6" font-weight="bold" fill="#ff0000" color="#ff0000" text-anchor="middle">30</text>
<text x="709.3" y="487.68" font-size="13.8" font-weight="normal" fill="#000" color="#000" text-anchor="start">9.</text>
<text transform="matrix(0.97 0 0 1 762.5 485.78)" font-size="22.6" font-weight="bold" fill="#ff0000" color="#ff0000" text-anchor="middle">30</text>
<text x="709.3" y="532.54" font-size="13.8" font-weight="normal" fill="#000" color="#000" text-anchor="start">10.</text>
<text transform="matrix(0.97 0 0 1 762.5 530.64)" font-size="22.6" font-weight="bold" fill="#ff0000" color="#ff0000" text-anchor="middle">12</text>
<text x="709.3" y="577.4" font-size="13.8" font-weight="normal" fill="#000" color="#000" text-anchor="start">11.</text>
<text transform="matrix(0.97 0 0 1 762.5 575.5)" font-size="22.6" font-weight="bold" fill="#ff0000" color="#ff0000" text-anchor="middle">18</text>
<text x="576.61" y="1009.5" font-size="13.5" font-weight="normal" fill="#000" color="#000" text-anchor="middle" class="t">91</text>
<text x="599.23" y="1009.5" font-size="13.5" font-weight="normal" fill="#000" color="#000" text-anchor="middle" class="t">82</text>
<text x="621.85" y="1009.5" font-size="13.5" font-weight="normal" fill="#000" color="#000" text-anchor="middle" class="t">73</text>
<text x="644.47" y="1009.5" font-size="13.5" font-weight="normal" fill="#000" color="#000" text-anchor="middle" class="t">64</text>
<text x="667.09" y="1009.5" font-size="13.5" font-weight="normal" fill="#000" color="#000" text-anchor="middle" class="t">55</text>
<text x="689.71" y="1009.5" font-size="13.5" font-weight="normal" fill="#000" color="#000" text-anchor="middle" class="t">45</text>
<text x="712.33" y="1009.5" font-size="13.5" font-weight="normal" fill="#000" color="#000" text-anchor="middle" class="t">36</text>
<text x="734.95" y="1009.5" font-size="13.5" font-weight="normal" fill="#000" color="#000" text-anchor="middle" class="t">27</text>
<text x="757.57" y="1009.5" font-size="13.5" font-weight="normal" fill="#000" color="#000" text-anchor="middle" class="t">18</text>
<text x="780.19" y="1009.5" font-size="13.5" font-weight="normal" fill="#000" color="#000" text-anchor="middle" class="t">9</text>
<text x="576.61" y="1026.6" font-size="13.5" font-weight="normal" fill="#000" color="#000" text-anchor="middle" class="t">0</text>
<text x="546" y="1009.5" font-size="12.5" font-weight="normal" fill="#000" color="#000" text-anchor="middle">1-10</text>
<text x="546" y="1026.6" font-size="12.5" font-weight="normal" fill="#000" color="#000" text-anchor="middle">11</text>
</svg>
</body></html>
